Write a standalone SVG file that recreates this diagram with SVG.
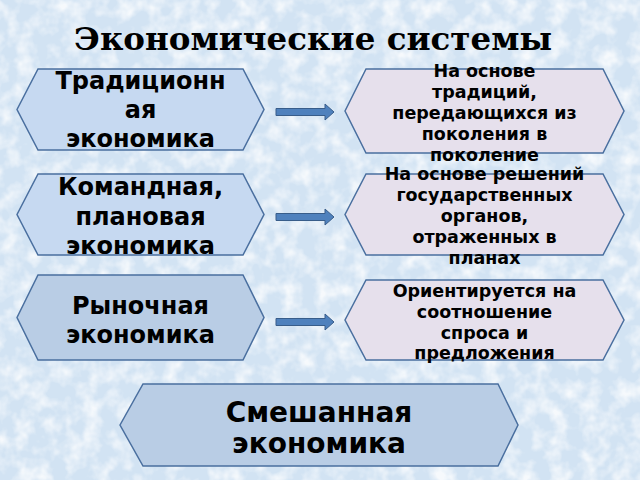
<svg xmlns="http://www.w3.org/2000/svg" width="640" height="480" viewBox="0 0 640 480">
  <defs>
    <filter id="tex" x="0" y="0" width="100%" height="100%">
      <feTurbulence type="fractalNoise" baseFrequency="0.06" numOctaves="3" seed="7" result="n"/>
      <feColorMatrix in="n" type="matrix" values="0 0 0 0 1  0 0 0 0 1  0 0 0 0 1  0 0 0 -2.2 1.35"/>
    </filter>
    <style>
      .hexL { fill: #c6d9f1; stroke: #4a6f9f; stroke-width: 1.5; }
      .hexD { fill: #b9cde5; stroke: #4a6f9f; stroke-width: 1.5; }
      .hexR { fill: #e6e0ec; stroke: #4a6f9f; stroke-width: 1.5; }
      .arrow { fill: #4f81bd; stroke: #385d8a; stroke-width: 1; }
      .tl { font-family: "DejaVu Sans", "Liberation Sans", sans-serif; font-weight: bold; font-size: 24px; fill: #000; text-anchor: middle; }
      .tr { font-family: "DejaVu Sans", "Liberation Sans", sans-serif; font-weight: bold; font-size: 17.5px; fill: #000; text-anchor: middle; }
      .tb { font-family: "DejaVu Sans", "Liberation Sans", sans-serif; font-weight: bold; font-size: 28px; fill: #000; text-anchor: middle; }
      .title { font-family: "DejaVu Serif", "Liberation Serif", serif; font-weight: bold; font-size: 32.5px; fill: #000; text-anchor: middle; }
    </style>
  </defs>
  <rect x="0" y="0" width="640" height="480" fill="#d2e3f3"/>
  <rect x="0" y="0" width="640" height="480" filter="url(#tex)" opacity="0.8"/>

  <text class="title" x="313" y="50">Экономические системы</text>

  <g id="connectors">
    <path class="arrow" d="M276,108.5 H325 V104 L334,112 L325,120 V115.5 H276 Z"/>
    <path class="arrow" d="M276,213.5 H325 V209 L334,217 L325,225 V220.5 H276 Z"/>
    <path class="arrow" d="M276,318.5 H325 V314 L334,322 L325,330 V325.5 H276 Z"/>
  </g>

  <g id="traditional">
    <polygon class="hexL" points="17,109.5 38,69 243,69 264,109.5 243,150 38,150"/>
    <text class="tl" x="140.5" y="89">Традиционн</text>
    <text class="tl" x="140.5" y="118">ая</text>
    <text class="tl" x="140.5" y="147">экономика</text>
  </g>

  <g id="command">
    <polygon class="hexL" points="17,214.5 38,174 243,174 264,214.5 243,255 38,255"/>
    <text class="tl" x="140.5" y="195">Командная,</text>
    <text class="tl" x="140.5" y="224.5">плановая</text>
    <text class="tl" x="140.5" y="254">экономика</text>
  </g>

  <g id="market">
    <polygon class="hexD" points="17,317.5 38,275 243,275 264,317.5 243,360 38,360"/>
    <text class="tl" x="140.5" y="314">Рыночная</text>
    <text class="tl" x="140.5" y="343">экономика</text>
  </g>

  <g id="traditional-desc">
    <polygon class="hexR" points="345,111 366,69 603,69 624,111 603,153 366,153"/>
    <text class="tr" x="484.5" y="76.5">На основе</text>
    <text class="tr" x="484.5" y="97.5">традиций,</text>
    <text class="tr" x="484.5" y="118.5">передающихся из</text>
    <text class="tr" x="484.5" y="139.5">поколения в</text>
    <text class="tr" x="484.5" y="160.5">поколение</text>
  </g>

  <g id="command-desc">
    <polygon class="hexR" points="345,214.5 366,174 603,174 624,214.5 603,255 366,255"/>
    <text class="tr" x="484.5" y="179.5">На основе решений</text>
    <text class="tr" x="484.5" y="200.5">государственных</text>
    <text class="tr" x="484.5" y="221.5">органов,</text>
    <text class="tr" x="484.5" y="242.5">отраженных в</text>
    <text class="tr" x="484.5" y="263.5">планах</text>
  </g>

  <g id="market-desc">
    <polygon class="hexR" points="345,320 366,280 603,280 624,320 603,360 366,360"/>
    <text class="tr" x="484.5" y="297">Ориентируется на</text>
    <text class="tr" x="484.5" y="318">соотношение</text>
    <text class="tr" x="484.5" y="338.5">спроса и</text>
    <text class="tr" x="484.5" y="359">предложения</text>
  </g>

  <g id="mixed">
    <polygon class="hexD" points="120,425 143,384 498,384 518,425 498,466 143,466"/>
    <text class="tb" x="319" y="422">Смешанная</text>
    <text class="tb" x="319" y="453">экономика</text>
  </g>
</svg>
